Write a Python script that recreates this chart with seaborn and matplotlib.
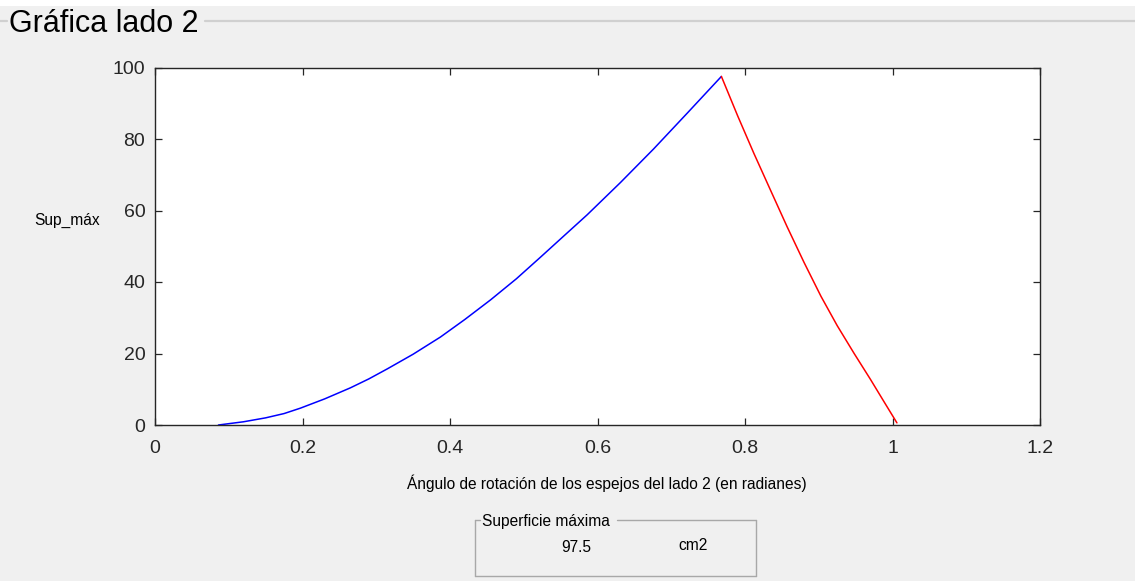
import matplotlib
matplotlib.use("Agg")

import matplotlib.pyplot as plt
import pandas as pd
import seaborn as sns
from matplotlib.lines import Line2D
from matplotlib.patches import Rectangle

# ── Data ──────────────────────────────────────────────────────────────────────
blue_angle = [0.086, 0.12, 0.15, 0.175, 0.197, 0.23, 0.265, 0.29, 0.315,
              0.35, 0.387, 0.42, 0.455, 0.49, 0.523, 0.555, 0.586, 0.631,
              0.676, 0.722, 0.768]
blue_sup = [0.0, 0.9, 2.0, 3.2, 4.7, 7.3, 10.4, 12.9, 15.7,
            19.8, 24.6, 29.5, 35.0, 40.9, 47.0, 53.0, 58.8, 67.8,
            77.2, 87.3, 97.5]

red_angle = [0.768, 0.79, 0.812, 0.835, 0.857, 0.88, 0.903, 0.925, 0.948,
             0.97, 0.99, 1.006]
red_sup = [97.5, 86.5, 76.0, 65.5, 55.5, 45.5, 36.0, 27.8, 20.0,
           12.8, 6.0, 0.6]

x_ticks = [0, 0.2, 0.4, 0.6, 0.8, 1, 1.2]
x_tick_labels = ["0", "0.2", "0.4", "0.6", "0.8", "1", "1.2"]
y_ticks = [0, 20, 40, 60, 80, 100]

sup_max = "97.5"

df_blue = pd.DataFrame({"angulo": blue_angle, "sup": blue_sup})
df_red = pd.DataFrame({"angulo": red_angle, "sup": red_sup})

# ── Style ─────────────────────────────────────────────────────────────────────
sns.set_theme(style="ticks")
plt.rcParams["font.family"] = ["Liberation Sans", "DejaVu Sans"]

W, H = 1135, 581
BG = "#f0f0f0"
AX_COL = "#262626"
TXT = 11.2

fig = plt.figure(figsize=(W / 100, H / 100), dpi=100, facecolor=BG)


def fx(px):
    return px / W


def fy(py):
    return 1 - py / H


# top white strip
fig.patches.append(Rectangle((0, fy(6)), 1, 6 / H, transform=fig.transFigure,
                             facecolor="white", edgecolor="none"))

# main panel title + border line
fig.text(fx(9), fy(24), "Gráfica lado 2", fontsize=22, color="black",
         ha="left", va="center")
for x0, x1 in [(0, 7), (205, W)]:
    fig.add_artist(Line2D([fx(x0), fx(x1)], [fy(21), fy(21)],
                          transform=fig.transFigure, color="#d0d0d0", lw=1.6))

# ── Axes ──────────────────────────────────────────────────────────────────────
ax = fig.add_axes([fx(155), fy(425), fx(1040) - fx(155), fy(67.5) - fy(425)])
ax.set_facecolor("white")

sns.lineplot(data=df_blue, x="angulo", y="sup", sort=False, color="#0000ff",
             lw=1.1, ax=ax, estimator=None)
sns.lineplot(data=df_red, x="angulo", y="sup", sort=False, color="#ff0000",
             lw=1.1, ax=ax, estimator=None)

ax.set_xlim(0, 1.2)
ax.set_ylim(0, 100)
ax.set_xticks(x_ticks)
ax.set_xticklabels(x_tick_labels)
ax.set_yticks(y_ticks)

for sp in ax.spines.values():
    sp.set_visible(True)
    sp.set_color(AX_COL)
    sp.set_linewidth(1.0)

ax.tick_params(axis="both", direction="in", top=True, right=True,
               length=5, width=0.9, color=AX_COL, labelcolor=AX_COL,
               labelsize=14)
ax.tick_params(axis="x", pad=11)
ax.tick_params(axis="y", pad=7)

ax.set_xlabel("Ángulo de rotación de los espejos del lado 2 (en radianes)",
              fontsize=TXT, color="black")
ax.xaxis.set_label_coords(0.51, -0.162)
ax.xaxis.label.set_va("center")

ax.set_ylabel("Sup_máx", fontsize=TXT, color="black", rotation=0)
ax.yaxis.set_label_coords(-0.099, 0.571)
ax.yaxis.label.set_va("center")
ax.yaxis.label.set_ha("center")

# ── "Superficie máxima" panel ────────────────────────────────────────────────
BOX = "#a8a8a8"
segs = [
    ((475, 520), (480, 520)),
    ((617, 520), (756, 520)),
    ((475, 520), (475, 575.5)),
    ((756, 520), (756, 575.5)),
    ((475, 575.5), (756, 575.5)),
]
for (x0, y0), (x1, y1) in segs:
    fig.add_artist(Line2D([fx(x0), fx(x1)], [fy(y0), fy(y1)],
                          transform=fig.transFigure, color=BOX, lw=1.0))

fig.text(fx(482.5), fy(521.5), "Superficie máxima", fontsize=TXT,
         color="black", ha="left", va="center")
fig.text(fx(576), fy(547.5), sup_max, fontsize=TXT, color="black",
         ha="center", va="center")
fig.text(fx(693), fy(545), "cm2", fontsize=TXT, color="black",
         ha="center", va="center")

fig.savefig("out.png", dpi=100, facecolor=BG)
